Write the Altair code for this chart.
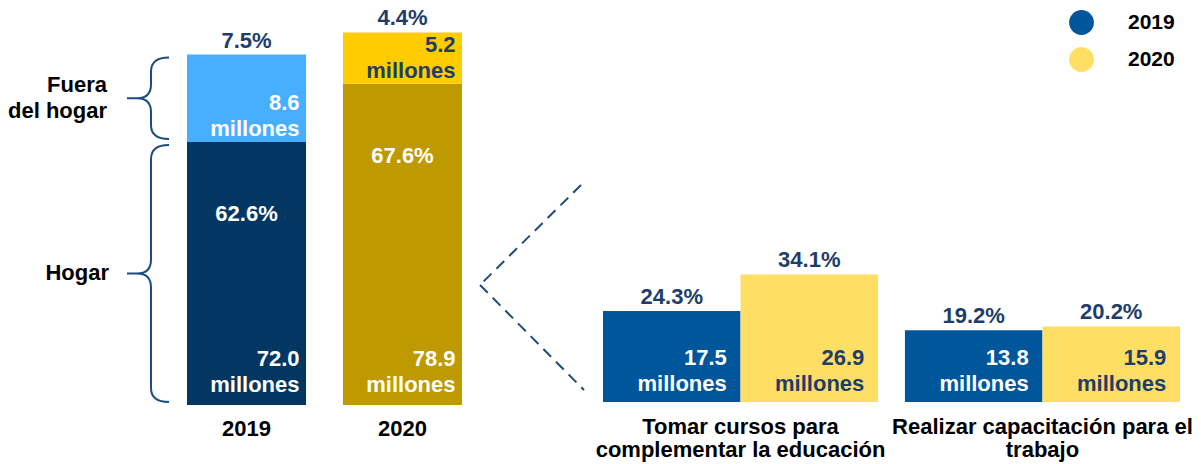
import altair as alt
import pandas as pd

FONT = "Liberation Sans, Arial, Helvetica, sans-serif"
NAVY = "#1E3D68"
BRACE = "#1F4C7C"
FS = 22   # font size
LH = 26   # line height of two-line labels

# ---------------- data ----------------
left_years = ["2019", "2020"]
hogar_pct = [62.6, 67.6]
fuera_pct = [7.5, 4.4]
hogar_mill = [72.0, 78.9]
fuera_mill = [8.6, 5.2]
segment_names = ["Hogar", "Fuera del hogar"]
segment_labels = ["Hogar", "Fuera\ndel hogar"]

categories = ["Tomar cursos para\ncomplementar la educación",
              "Realizar capacitación para el\ntrabajo"]
right_years = ["2019", "2020"]
pct_2019 = [24.3, 19.2]
pct_2020 = [34.1, 20.2]
mill_2019 = [17.5, 13.8]
mill_2020 = [26.9, 15.9]

# ---------------- layout ----------------
W, H = 1185, 397
LEFT_DOMAIN = [40, 74.1]
PXU = H / (LEFT_DOMAIN[1] - LEFT_DOMAIN[0])

rows = []
for i, y in enumerate(left_years):
    base = LEFT_DOMAIN[0]
    h_end = hogar_pct[i]
    f_end = hogar_pct[i] + fuera_pct[i]
    rows.append(dict(year=y, segment=segment_names[0], seglabel=segment_labels[0],
                     key=f"{y} Hogar", start=base, end=h_end,
                     pct_txt=f"{hogar_pct[i]:.1f}%",
                     mill_txt=f"{hogar_mill[i]:.1f}\nmillones"))
    rows.append(dict(year=y, segment=segment_names[1], seglabel=segment_labels[1],
                     key=f"{y} Fuera", start=h_end, end=f_end,
                     pct_txt=f"{fuera_pct[i]:.1f}%",
                     mill_txt=f"{fuera_mill[i]:.1f}\nmillones"))
left_df = pd.DataFrame(rows)
left_df["mid"] = (left_df["start"] + left_df["end"]) / 2

rrows = []
for i, c in enumerate(categories):
    for y, p, m in (("2019", pct_2019[i], mill_2019[i]), ("2020", pct_2020[i], mill_2020[i])):
        rrows.append(dict(cat=c, year=y, pct=p, base=0,
                          pct_txt=f"{p:.1f}%", mill_txt=f"{m:.1f}\nmillones"))
right_df = pd.DataFrame(rrows)

LEFT_X = alt.Scale(domain=left_years, range=[179, 454], paddingInner=0.237, paddingOuter=0)
LEFT_Y = alt.Scale(domain=LEFT_DOMAIN)
RIGHT_X = alt.Scale(domain=categories, range=[595, 1172], paddingInner=0.089, paddingOuter=0)
RIGHT_Y = alt.Scale(domain=[-0.8, 105.3])

x_axis_left = alt.Axis(title=None, labelAngle=0, domain=False, ticks=False, grid=False,
                       orient="bottom", labelPadding=13, labelFont=FONT, labelFontSize=FS,
                       labelFontWeight="bold", labelColor="black")
x_axis_right = alt.Axis(title=None, labelAngle=0, domain=False, ticks=False, grid=False,
                        orient="bottom", labelPadding=11, labelFont=FONT, labelFontSize=FS,
                        labelFontWeight="bold", labelColor="black", labelLimit=500,
                        labelLineHeight=23, labelExpr="split(datum.label, '\\n')")

# ---------------- left panel ----------------
lbase = alt.Chart(left_df)
lx = alt.X("year:N", scale=LEFT_X, axis=x_axis_left)

left_bars = lbase.mark_bar().encode(
    x=lx,
    y=alt.Y("start:Q", scale=LEFT_Y, axis=None),
    y2="end:Q",
    color=alt.Color("key:N", legend=None,
                    scale=alt.Scale(domain=["2019 Hogar", "2019 Fuera", "2020 Hogar", "2020 Fuera"],
                                    range=["#023764", "#48AFFF", "#BF9900", "#FFCC00"])),
)

top_pct = lbase.mark_text(baseline="bottom", dy=-2, color=NAVY).encode(
    x=lx, y=alt.Y("end:Q", scale=LEFT_Y, axis=None), text="pct_txt:N"
).transform_filter(alt.datum.segment == "Fuera del hogar")

in_pct = lbase.mark_text(baseline="middle", dy=72, color="white").encode(
    x=lx, y=alt.Y("end:Q", scale=LEFT_Y, axis=None), text="pct_txt:N"
).transform_filter(alt.datum.segment == "Hogar")

mill_h = lbase.mark_text(baseline="bottom", align="right", dx=53, dy=-8 - LH,
                         lineBreak="\n", lineHeight=LH, color="white").encode(
    x=lx, y=alt.Y("start:Q", scale=LEFT_Y, axis=None), text="mill_txt:N"
).transform_filter(alt.datum.segment == "Hogar")

mill_f = lbase.mark_text(baseline="bottom", align="right", dx=53, dy=-1 - LH,
                         lineBreak="\n", lineHeight=LH).encode(
    x=lx, y=alt.Y("start:Q", scale=LEFT_Y, axis=None), text="mill_txt:N",
    color=alt.condition(alt.datum.year == "2020", alt.value(NAVY), alt.value("white")),
).transform_filter(alt.datum.segment == "Fuera del hogar")


def brace_path(h, a=24, b=18, c=14):
    r = h / 2

    def f(v):
        return f"{v / r:.4f}"
    return (f"M{f(b)},{f(-r)} Q0,{f(-r)} 0,{f(-r + c)} L0,{f(-c)} "
            f"Q0,0 {f(-c)},0 L{f(-a)},0 M{f(-c)},0 Q0,0 0,{f(c)} "
            f"L0,{f(r - c)} Q0,{f(r)} {f(b)},{f(r)}")


braces = []
for seg in segment_names:
    r = left_df[(left_df.year == "2019") & (left_df.segment == seg)].iloc[0]
    hpx = (r["end"] - r["start"]) * PXU - 6
    braces.append(
        lbase.mark_point(shape=brace_path(hpx), filled=False, size=hpx ** 2,
                         strokeWidth=2, color=BRACE, opacity=1).encode(
            x=alt.value(143), y=alt.Y("mid:Q", scale=LEFT_Y, axis=None)
        ).transform_filter((alt.datum.year == "2019") & (alt.datum.segment == seg))
    )

brace_lab_1 = lbase.mark_text(align="right", baseline="middle", color="black").encode(
    x=alt.value(101), y=alt.Y("mid:Q", scale=LEFT_Y, axis=None), text="seglabel:N"
).transform_filter((alt.datum.year == "2019") & (alt.datum.segment == "Hogar"))

brace_lab_2 = lbase.mark_text(align="right", baseline="middle", lineBreak="\n",
                              lineHeight=LH, dy=-LH / 2, color="black").encode(
    x=alt.value(99), y=alt.Y("mid:Q", scale=LEFT_Y, axis=None), text="seglabel:N"
).transform_filter((alt.datum.year == "2019") & (alt.datum.segment == "Fuera del hogar"))

left = alt.layer(left_bars, top_pct, in_pct, mill_h, mill_f, *braces, brace_lab_1, brace_lab_2)

# ---------------- right panel ----------------
rbase = alt.Chart(right_df)
rx = alt.X("cat:N", scale=RIGHT_X, sort=categories, axis=x_axis_right)
rxo = alt.XOffset("year:N", scale=alt.Scale(domain=right_years, paddingInner=0, paddingOuter=0))

right_bars = rbase.mark_bar().encode(
    x=rx, xOffset=rxo,
    y=alt.Y("pct:Q", scale=RIGHT_Y, axis=None),
    color=alt.Color("year:N",
                    scale=alt.Scale(domain=right_years, range=["#00569B", "#FFDE66"]),
                    legend=alt.Legend(orient="none", legendX=1061, legendY=2, title=None,
                                      symbolType="circle", symbolSize=615,
                                      symbolStrokeWidth=0, symbolOpacity=1,
                                      labelFont=FONT, labelFontSize=21,
                                      labelFontWeight="bold", labelColor="black",
                                      rowPadding=12, labelOffset=34)),
)

r_pct = rbase.mark_text(baseline="bottom", dy=-2, color=NAVY).encode(
    x=rx, xOffset=rxo, y=alt.Y("pct:Q", scale=RIGHT_Y, axis=None), text="pct_txt:N"
)

r_mill = rbase.mark_text(baseline="bottom", align="right", dx=55, dy=-6 - LH,
                         lineBreak="\n", lineHeight=LH).encode(
    x=rx, xOffset=rxo, y=alt.Y("base:Q", scale=RIGHT_Y, axis=None), text="mill_txt:N",
    color=alt.condition(alt.datum.year == "2020", alt.value(NAVY), alt.value("white")),
)

right = alt.layer(right_bars, r_pct, r_mill)

# ---------------- connector ----------------
conn_df = pd.DataFrame({"k": [0]})
conn1 = alt.Chart(conn_df).mark_rule(strokeDash=[11, 7], strokeWidth=2, color=BRACE).encode(
    x=alt.value(573), y=alt.value(177), x2=alt.value(472), y2=alt.value(277))
conn2 = alt.Chart(conn_df).mark_rule(strokeDash=[11, 7], strokeWidth=2, color=BRACE).encode(
    x=alt.value(472), y=alt.value(277), x2=alt.value(576), y2=alt.value(382))

chart = alt.layer(left, right, conn1, conn2).resolve_scale(
    x="independent", y="independent", color="independent"
).properties(
    width=W, height=H,
    padding={"left": 0, "top": 0, "right": 0, "bottom": 59},
    autosize=alt.AutoSizeParams(type="none"),
).configure_view(stroke=None).configure_text(
    font=FONT, fontSize=FS, fontWeight="bold"
)

chart.save("out.html", embed_options={"renderer": "svg", "actions": False})
